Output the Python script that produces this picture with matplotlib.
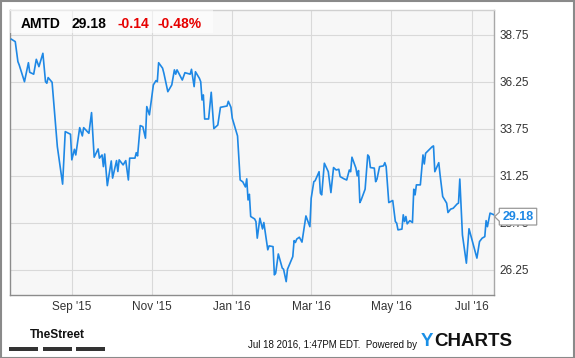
import numpy as np
import pandas as pd
import matplotlib
matplotlib.use("Agg")
import matplotlib.pyplot as plt
import matplotlib.dates as mdates
from matplotlib import font_manager
from matplotlib.patches import Rectangle, Polygon
from matplotlib.transforms import ScaledTranslation

plt.rcParams['font.family'] = ['Liberation Sans', 'DejaVu Sans']

# data: calendar days after 2015-07-16 and closing price
start = pd.Timestamp('2015-07-16')
days = [1, 4, 6, 7, 11, 14, 15, 18, 20, 22,
        25, 27, 28, 29, 32, 36, 40, 42, 46, 47,
        49, 50, 53, 55, 56, 60, 62, 64, 67, 68,
        70, 71, 72, 74, 77, 78, 81, 82, 83, 86,
        88, 90, 91, 95, 96, 97, 99, 101, 103, 104,
        106, 109, 111, 112, 113, 116, 117, 120, 123, 125,
        126, 127, 131, 133, 137, 138, 140, 141, 144, 145,
        146, 147, 148, 151, 153, 155, 158, 160, 165, 166,
        168, 169, 173, 175, 177, 179, 180, 181, 182, 183,
        186, 187, 188, 190, 192, 193, 196, 197, 200, 201,
        202, 204, 207, 208, 210, 211, 215, 216, 217, 218,
        220, 222, 225, 228, 229, 231, 232, 235, 236, 237,
        239, 242, 244, 246, 248, 250, 251, 254, 256, 258,
        259, 260, 263, 264, 265, 266, 267, 270, 272, 273,
        274, 277, 278, 279, 281, 284, 285, 286, 288, 291,
        293, 294, 295, 298, 299, 300, 301, 302, 304, 306,
        307, 308, 309, 312, 314, 315, 316, 321, 322, 323,
        326, 327, 329, 332, 333, 335, 337, 340, 341, 342,
        344, 347, 349, 355, 357, 359, 361, 362, 363, 365,
        368]
price = [38.51, 38.38, 37.32, 37.14, 36.25, 37.26, 36.75, 36.65, 37.44, 37.05,
         37.76, 36.25, 36.17, 36.47, 36.22, 32.80, 30.81, 33.60, 33.46, 32.10,
         32.66, 32.36, 33.81, 33.37, 33.81, 33.51, 34.61, 32.24, 32.68, 32.19,
         32.36, 31.74, 32.41, 30.73, 32.04, 31.13, 32.06, 31.48, 32.10, 31.83,
         32.06, 31.03, 32.19, 32.19, 32.48, 32.31, 33.92, 33.86, 33.25, 34.93,
         34.49, 36.08, 36.31, 36.25, 37.26, 36.97, 36.70, 35.72, 36.08, 36.88,
         36.65, 36.88, 36.34, 36.73, 36.65, 36.91, 35.99, 36.78, 36.43, 36.25,
         35.28, 35.55, 34.27, 34.27, 35.69, 33.76, 33.95, 34.89, 34.96, 35.21,
         34.89, 34.31, 33.37, 31.03, 30.93, 30.66, 31.09, 29.97, 30.27, 29.09,
         28.96, 28.82, 27.94, 29.00, 28.43, 28.77, 27.32, 27.53, 27.49, 25.99,
         26.08, 27.10, 26.35, 26.29, 25.63, 26.29, 26.96, 27.81, 27.71, 27.89,
         27.99, 27.73, 29.12, 28.55, 30.06, 30.94, 30.99, 31.47, 30.33, 30.24,
         31.92, 31.47, 30.36, 31.69, 31.56, 31.60, 31.21, 31.09, 31.03, 31.56,
         31.47, 32.24, 31.66, 31.25, 31.53, 29.83, 29.97, 30.54, 32.36, 32.27,
         31.69, 31.66, 30.94, 31.07, 31.74, 31.78, 31.95, 31.74, 29.83, 29.94,
         28.82, 28.74, 28.38, 28.42, 29.18, 28.82, 29.09, 28.70, 28.87, 28.77,
         30.54, 30.24, 30.77, 30.77, 32.36, 31.88, 32.45, 32.80, 32.84, 31.47,
         31.95, 31.30, 30.15, 29.80, 29.30, 29.48, 29.53, 29.76, 29.80, 31.08,
         28.11, 26.61, 28.44, 26.88, 27.76, 27.94, 28.02, 28.87, 28.55, 29.27,
         29.18]
yticks = [26.25, 28.75, 31.25, 33.75, 36.25, 38.75]
ticker = 'AMTD'
last, chg, pct = '29.18', '-0.14', '-0.48%'

dates = start + pd.to_timedelta(days, unit='D')

W, H = 575, 358
fig = plt.figure(figsize=(W / 100, H / 100), dpi=100)
fx = lambda p: p / W
fy = lambda p: 1 - p / H

ax = fig.add_axes([fx(10), fy(295), fx(494) - fx(10), fy(10) - fy(295)])
ax.set_facecolor('#f7f7f7')
ax.plot(dates, price, color='#1e88e5', lw=1.2, zorder=3)

ax.set_xlim(start, start + pd.Timedelta(days=368))
ax.set_ylim(24.92, 40.06)
ax.xaxis.set_major_locator(mdates.MonthLocator(bymonth=[1, 3, 5, 7, 9, 11]))
ax.xaxis.set_major_formatter(mdates.DateFormatter("%b '%y"))
ax.set_yticks(yticks)
ax.set_yticklabels(['%.2f' % v for v in yticks])
ax.yaxis.tick_right()
ax.tick_params(axis='both', length=0, labelsize=8.5, labelcolor='#333333')
ax.tick_params(axis='x', pad=4)
ax.tick_params(axis='y', pad=4)
ax.grid(True, color='#d9d9d9', lw=0.8)
ax.set_axisbelow(True)
for side, c in [('left', '#8c8c8c'), ('bottom', '#8c8c8c'), ('right', '#a8a8a8'), ('top', '#d0d0d0')]:
    ax.spines[side].set_color(c)
    ax.spines[side].set_linewidth(1)

# header quote box
fig.patches.append(Rectangle((fx(10), fy(33)), fx(213) - fx(10), fy(10) - fy(33),
                             transform=fig.transFigure, facecolor='white', alpha=0.55,
                             edgecolor='none', zorder=5))
for txt, x0, col in [(ticker, 21, 'black'), (last, 72, 'black'), (chg, 117, '#e60000'), (pct, 158, '#e60000')]:
    fig.text(fx(x0), fy(23.5), txt, fontsize=10, fontweight='bold', color=col,
             ha='left', va='center', zorder=6)

# last value flag
x_last = mdates.date2num(dates[-1].to_pydatetime())
tr = fig.dpi_scale_trans + ScaledTranslation(x_last, price[-1], ax.transData)
verts = np.array([(5.3, 6.5), (42.7, 6.5), (42.7, -10.2), (5.3, -10.2), (5.3, -6.4),
                  (0.6, -1.9), (5.3, 2.6)]) / 100
ax.add_patch(Polygon(verts, closed=True, transform=tr, facecolor='white',
                     edgecolor='#9a9a9a', lw=0.9, clip_on=False, zorder=10))
ax.text(0.24, -0.019, last, transform=tr, ha='center', va='center', fontsize=9,
        fontweight='bold', color='#1e88e5', zorder=11, clip_on=False)

# footer: condensed logo font if one is installed
logo_family, logo_size = 'Liberation Sans', 8.6
for fam in ['Liberation Sans Narrow', 'DejaVu Sans Condensed']:
    try:
        font_manager.findfont(font_manager.FontProperties(family=fam, weight='bold'),
                              fallback_to_default=False)
        logo_family, logo_size = fam, 10.5
        break
    except ValueError:
        pass
fig.text(fx(57), fy(335), 'TheStreet', fontsize=logo_size, fontweight='bold',
         family=logo_family, ha='center', va='center', color='#111111')
for a, b in [(9, 38.3), (42.7, 71.7), (76, 105)]:
    fig.patches.append(Rectangle((fx(a), fy(350.5)), fx(b) - fx(a), 3.3 / H,
                                 transform=fig.transFigure, facecolor='#333333', edgecolor='none'))
fig.text(fx(417), fy(344.5), 'Jul 18 2016, 1:47PM EDT.  Powered by', fontsize=7.0,
         ha='right', va='center', color='#111111')
fig.text(fx(421), fy(342), 'Y', fontsize=13.5, fontweight='bold', color='#1a8fe6',
         ha='left', va='center')
fig.text(fx(434), fy(342), 'CHARTS', fontsize=13.5, fontweight='bold', color='#111111',
         ha='left', va='center')

# outer frame
fig.patches.append(Rectangle((0.5 / W, 0.5 / H), 1 - 1.5 / W, 1 - 1.5 / H, transform=fig.transFigure,
                             facecolor='none', edgecolor='#8a8a8a', lw=1.5))

fig.savefig('out.png', dpi=100, facecolor='white')
